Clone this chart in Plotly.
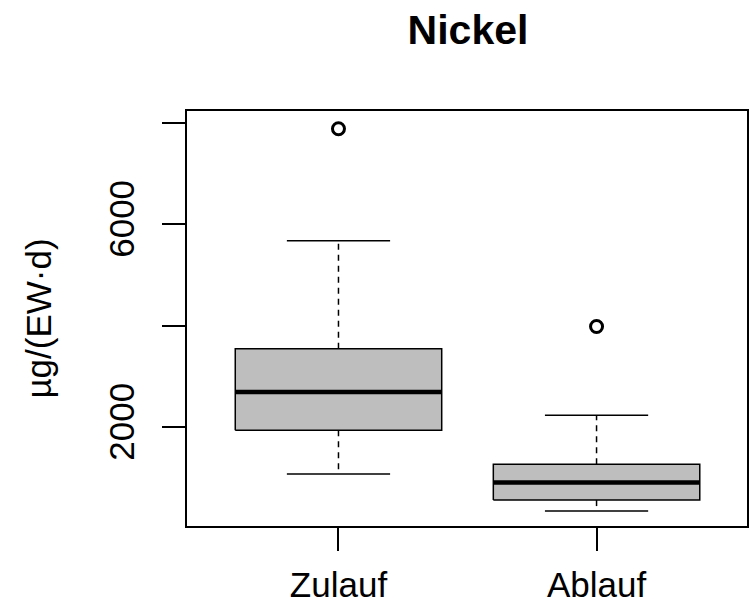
import plotly.graph_objects as go

# Nickel loads per group (µg per inhabitant equivalent and day)
groups = ["Zulauf", "Ablauf"]
positions = [1, 2]
lower_whisker = [1070, 342]
q1 = [1935, 558]
median = [2689, 906]
q3 = [3542, 1266]
upper_whisker = [5673, 2230]
outliers = [[7880], [3981]]

y_tick_values = [2000, 4000, 6000, 8000]
y_tick_labels = ["2000", "", "6000", ""]

BOX_HALF = 0.4
CAP_HALF = 0.2
FONT = "Liberation Sans, Arial, sans-serif"

fig = go.Figure()

for i, name in enumerate(groups):
    x = positions[i]
    # filled box from first to third quartile
    fig.add_trace(go.Scatter(
        x=[x - BOX_HALF, x + BOX_HALF, x + BOX_HALF, x - BOX_HALF, x - BOX_HALF],
        y=[q1[i], q1[i], q3[i], q3[i], q1[i]],
        mode="lines", fill="toself", fillcolor="#bebebe",
        line=dict(color="black", width=1.5), hoverinfo="skip", showlegend=False))
    # dashed whiskers
    fig.add_trace(go.Scatter(
        x=[x, x, None, x, x],
        y=[q3[i], upper_whisker[i], None, q1[i], lower_whisker[i]],
        mode="lines", line=dict(color="black", width=1.5, dash="6px,5px"),
        hoverinfo="skip", showlegend=False))
    # whisker caps
    fig.add_trace(go.Scatter(
        x=[x - CAP_HALF, x + CAP_HALF, None, x - CAP_HALF, x + CAP_HALF],
        y=[upper_whisker[i], upper_whisker[i], None, lower_whisker[i], lower_whisker[i]],
        mode="lines", line=dict(color="black", width=1.5),
        hoverinfo="skip", showlegend=False))
    # median
    fig.add_trace(go.Scatter(
        x=[x - BOX_HALF, x + BOX_HALF], y=[median[i], median[i]],
        mode="lines", line=dict(color="black", width=4.5),
        hoverinfo="skip", showlegend=False))
    # outliers
    fig.add_trace(go.Scatter(
        x=[x] * len(outliers[i]), y=outliers[i], mode="markers",
        marker=dict(symbol="circle-open", size=12, color="black",
                    line=dict(width=3, color="black")),
        showlegend=False))

fig.update_layout(
    width=752, height=607,
    margin=dict(l=187, r=3, t=111, b=80),
    paper_bgcolor="white", plot_bgcolor="white",
    font=dict(family=FONT, size=35, color="black"),
    title=dict(text="<b>Nickel</b>", x=468 / 752, xanchor="center",
               y=1 - 30 / 607, yanchor="middle", yref="container",
               font=dict(family=FONT, size=41, color="black")),
)

fig.update_xaxes(
    range=[0.413, 2.583], tickvals=positions, ticktext=groups,
    showline=True, mirror=True, linecolor="black", linewidth=1.5,
    ticks="outside", ticklen=23, tickwidth=1.5, tickcolor="black",
    ticklabelstandoff=4,
    showgrid=False, zeroline=False,
    tickfont=dict(family=FONT, size=35, color="black"),
)
fig.update_yaxes(
    range=[47, 8230], tickvals=y_tick_values, ticktext=y_tick_labels,
    tickangle=-90, ticklabelstandoff=14,
    showline=True, mirror=True, linecolor="black", linewidth=1.5,
    ticks="outside", ticklen=23, tickwidth=1.5, tickcolor="black",
    showgrid=False, zeroline=False,
    tickfont=dict(family=FONT, size=35, color="black"),
    title=dict(text="µg/(EW·d)", standoff=40,
               font=dict(family=FONT, size=35, color="black")),
)

fig.write_html("out.html")
